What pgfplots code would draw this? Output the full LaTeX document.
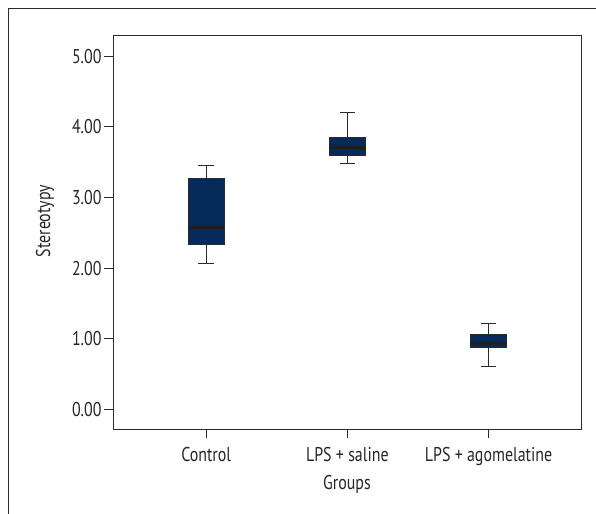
\documentclass[border=0pt]{standalone}
\usepackage{fontspec}
\setmainfont{PT Sans}[FakeStretch=0.8]
\usepackage{pgfplots}
\pgfplotsset{compat=1.18}
\usepgfplotslibrary{statistics}
\definecolor{boxnavy}{HTML}{062A5A}
\definecolor{edgegray}{HTML}{2A2A2A}
\newcommand{\lblfont}{\fontsize{20}{22}\selectfont}
\begin{document}
\begin{tikzpicture}[x=1bp,y=1bp]
\useasboundingbox (0,0) rectangle (596,514);
\draw[edgegray, line width=0.9bp] (8,0) -- (8,506) -- (596,506);
\begin{axis}[
  at={(113bp,84.7bp)}, anchor=south west,
  scale only axis, width=468.7bp, height=394.3bp,
  xmin=0.34, xmax=3.66, ymin=-0.283, ymax=5.30,
  xtick={1,2,3},
  xticklabels={Control, LPS + saline, LPS + agomelatine},
  ytick={0,1,2,3,4,5},
  /pgf/number format/assume math mode=true,
  yticklabel={\pgfmathprintnumber[fixed,fixed zerofill,precision=2]{\tick}},
  tick label style={font=\lblfont, text=black!85},
  xticklabel style={yshift=-5bp},
  yticklabel style={xshift=1bp},
  tick align=outside, major tick length=9bp,
  xtick pos=bottom, ytick pos=left,
  axis line style={edgegray, line width=0.9bp},
  tick style={edgegray, line width=0.9bp},
  clip=false,
  boxplot/draw direction=y,
  boxplot/box extend=0.258,
  boxplot/whisker extend=0.11,
  boxplot/every median/.style={line width=2.8bp, draw=black!88},
  boxplot/every box/.style={draw=edgegray, line width=0.8bp, fill=boxnavy},
  boxplot/every whisker/.style={draw=edgegray, line width=0.9bp},
]
\addplot+[mark=none, draw=edgegray, solid, boxplot prepared={draw position=1,
  lower whisker=2.070, lower quartile=2.329, median=2.576,
  upper quartile=3.263, upper whisker=3.447}] coordinates {};
\addplot+[mark=none, draw=edgegray, solid, boxplot prepared={draw position=2,
  lower whisker=3.476, lower quartile=3.599, median=3.708,
  upper quartile=3.849, upper whisker=4.207}] coordinates {};
\addplot+[mark=none, draw=edgegray, solid, boxplot prepared={draw position=3,
  lower whisker=0.603, lower quartile=0.872, median=0.934,
  upper quartile=1.066, upper whisker=1.211}] coordinates {};
\end{axis}
\node[font=\lblfont, text=black!85] at (347,30) {Groups};
\node[rotate=90, font=\lblfont, text=black!85] at (45,293) {Stereotypy};
\end{tikzpicture}
\end{document}
